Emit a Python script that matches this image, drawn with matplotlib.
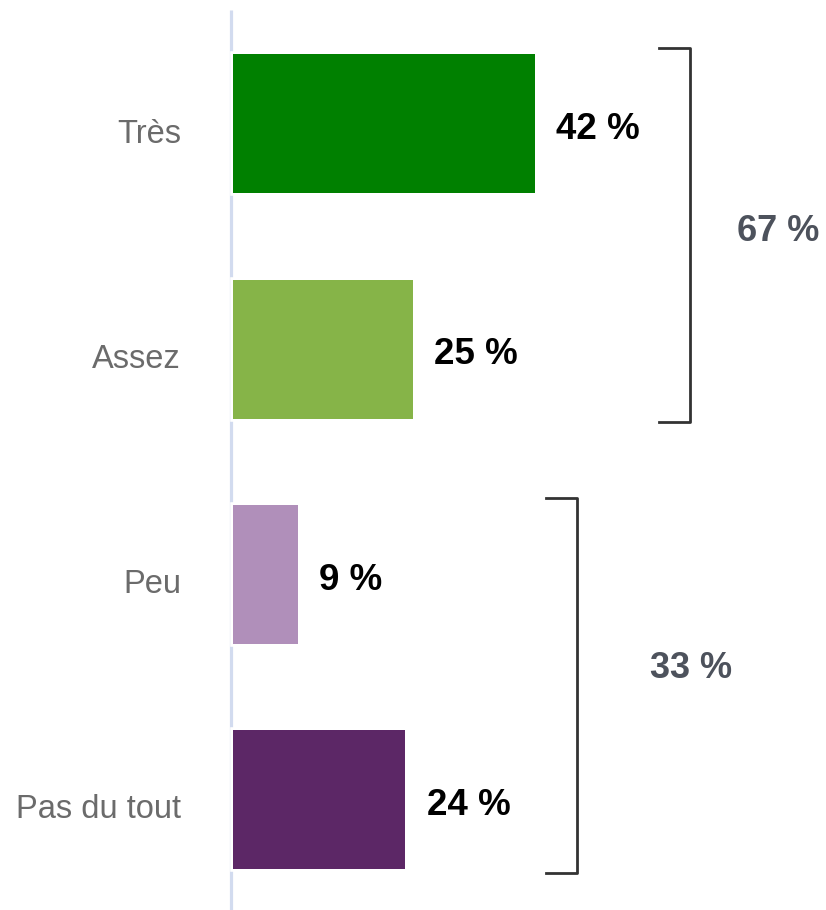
import matplotlib.pyplot as plt

plt.rcParams['font.family'] = ['Liberation Sans', 'DejaVu Sans']

categories = ['Très', 'Assez', 'Peu', 'Pas du tout']
values = [42, 25, 9, 24]
colors = ['#008000', '#86b448', '#b08fba', '#5c2766']
groups = [(0, 1), (2, 3)]
group_labels = ['67 %', '33 %']

fig = plt.figure(figsize=(8.26, 9.10), dpi=100)
ax = fig.add_axes([0, 0, 1, 1])
ax.set_xlim(-32.4, 82.5)
ax.set_ylim(3.489, -0.55)
ax.axis('off')

ypos = list(range(len(categories)))
bh = 0.617

# axe vertical gris-bleu derriere les barres
ax.plot([-0.2, -0.2], [-0.505, 3.489], color='#d2dbef', lw=2.3, zorder=1,
        solid_capstyle='butt')
# bord blanc qui coupe l'axe, puis la barre pleine par-dessus
ax.barh(ypos, values, height=bh, color='white', edgecolor='white', linewidth=4, zorder=2)
ax.barh(ypos, values, height=bh, color=colors, linewidth=0, zorder=3)

for y, v, c in zip(ypos, values, categories):
    ax.text(v + 3.0, y + 0.025, f'{v} %', va='center', ha='left', fontsize=26.5,
            fontweight='bold', color='black')
    ax.text(-7.2, y + 0.045, c, va='center', ha='right', fontsize=23.5, color='#6b6b6b')

# accolades de regroupement
gap = [21.6, 23.8]
lbl_off = [12.3, 15.9]
lbl_dy = [-0.015, -0.075]
for (a, b), lab, g, off, dy in zip(groups, group_labels, gap, lbl_off, lbl_dy):
    xb = max(values[a:b + 1]) + g
    y0 = a - bh / 2 - 0.03
    y1 = b + bh / 2 + 0.015
    ax.plot([xb - 4.3, xb, xb, xb - 4.3], [y0, y0, y1, y1], color='#333333', lw=2,
            solid_joinstyle='round')
    ax.text(xb + off, (y0 + y1) / 2 + dy, lab, va='center', ha='center', fontsize=26,
            fontweight='bold', color='#4d525c')

fig.savefig('out.png', dpi=100)
